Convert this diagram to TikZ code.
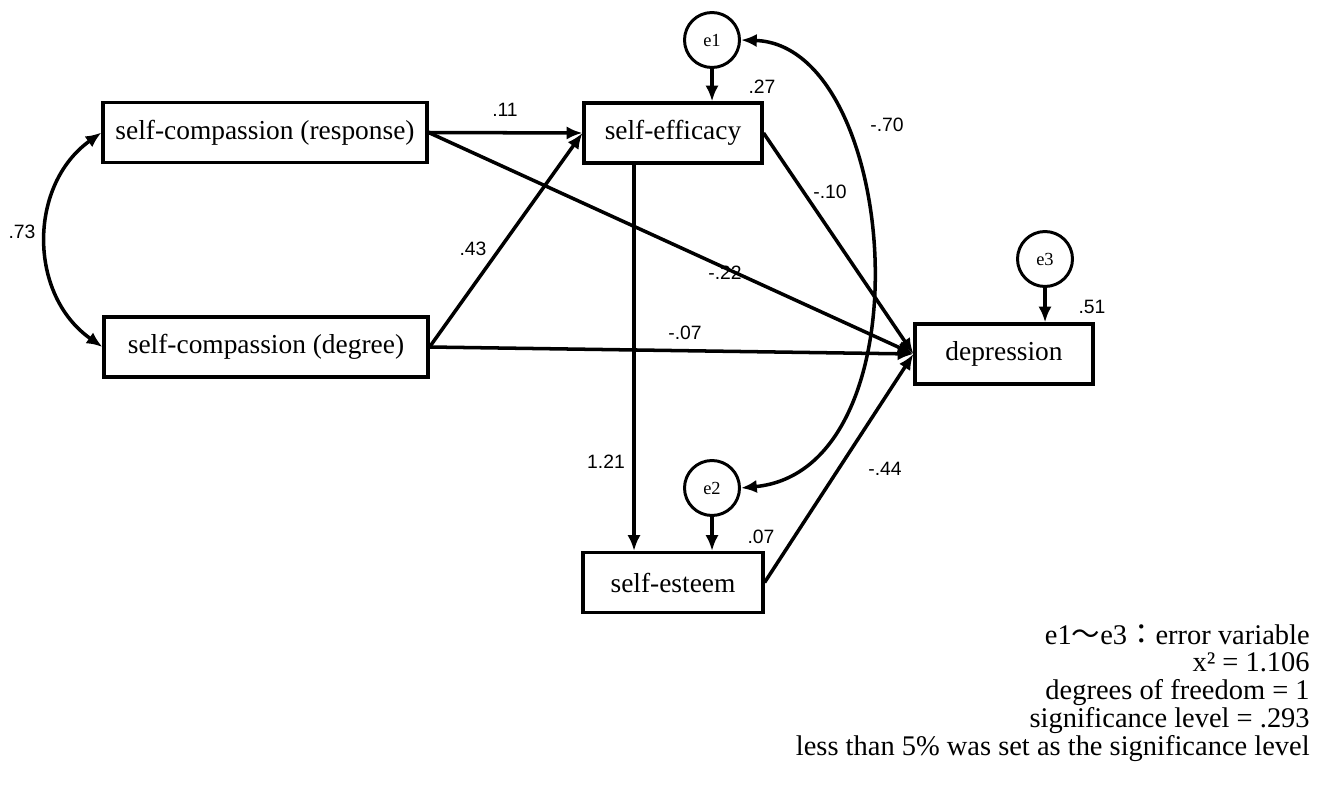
\documentclass[tikz,border=0pt]{standalone}
\usepackage{fontspec}
\setmainfont{Liberation Serif}
\newfontfamily\numfont{Liberation Sans}
\newfontfamily\cjk{Noto Sans CJK JP}
\usetikzlibrary{arrows.meta}
\tikzset{
  var/.style={draw, line width=1.8pt, minimum height=1.2cm, inner sep=0pt,
    font=\fontsize{15.6}{17}\selectfont},
  err/.style={draw, circle, line width=1.7pt, minimum size=1.1cm, inner sep=0pt,
    font=\fontsize{10.5}{12}\selectfont},
  coef/.style={font=\numfont\fontsize{11}{12}\selectfont},
  link/.style={-{Latex[length=9pt,width=7.5pt]}, line width=2pt},
  cov/.style={{Latex[length=9pt,width=7.5pt]}-{Latex[length=9pt,width=7.5pt]}, line width=2pt}
}
\begin{document}
\begin{tikzpicture}[x=0.02cm, y=-0.02cm]
\useasboundingbox (0,0) rectangle (1318,791);

% observed variables
\node[var, minimum width=6.48cm] (scr) at (265,132.5) {self-compassion (response)};
\node[var, minimum width=6.48cm] (scd) at (266,347) {self-compassion (degree)};
\node[var, minimum width=3.56cm] (se) at (673,133) {self-efficacy};
\node[var, minimum width=3.6cm] (est) at (673,582.5) {self-esteem};
\node[var, minimum width=3.56cm] (dep) at (1004,354) {depression};

% error terms
\node[err] (e1) at (712,40) {e1};
\node[err] (e2) at (712,488) {e2};
\node[err] (e3) at (1045,259) {e3};

% paths
\draw[link] (scr.east) -- (se.west);
\draw[link] (scd.east) -- (se.west);
\draw[link] (scr.east) -- (dep.west);
\draw[link] (scd.east) -- (dep.west);
\draw[link] (se.east) -- (dep.west);
\draw[link] (est.east) -- (dep.west);
\draw[link] ([xshift=-0.78cm]se.south) -- ([xshift=-0.78cm]est.north);
\draw[link] (e1.south) -- (e1.south |- se.north);
\draw[link] (e2.south) -- (e2.south |- est.north);
\draw[link] (e3.south) -- (e3.south |- dep.north);

% covariances
\draw[cov] (scr.west) .. controls (28,185) and (28,295) .. (scd.west);
\draw[cov] (e1.east) .. controls (900,45) and (930,470) .. (e2.east);

\node[coef] (c1) at (505,110) {.11};
\node[coef] (c2) at (473,249) {.43};
\node[coef] (c3) at (725,273) {-.22};
\node[coef] (c4) at (685,333) {-.07};
\node[coef] (c5) at (22,232) {.73};
\node[coef] (c6) at (762,87) {.27};
\node[coef] (c7) at (887,125) {-.70};
\node[coef] (c8) at (830,192) {-.10};
\node[coef] (c9) at (606,462) {1.21};
\node[coef] (c10) at (885,469) {-.44};
\node[coef] (c11) at (761,537) {.07};
\node[coef] (c12) at (1092,307) {.51};

\node[anchor=north east, align=right, inner sep=0pt,
  font=\fontsize{16.2}{15.8}\selectfont] (note) at (1310,624)
  {e1{\cjk ～}e3{\cjk ：}error variable\\
   x² = 1.106\\
   degrees of freedom = 1\\
   significance level = .293\\
   less than 5\% was set as the significance level};
\end{tikzpicture}
\end{document}
